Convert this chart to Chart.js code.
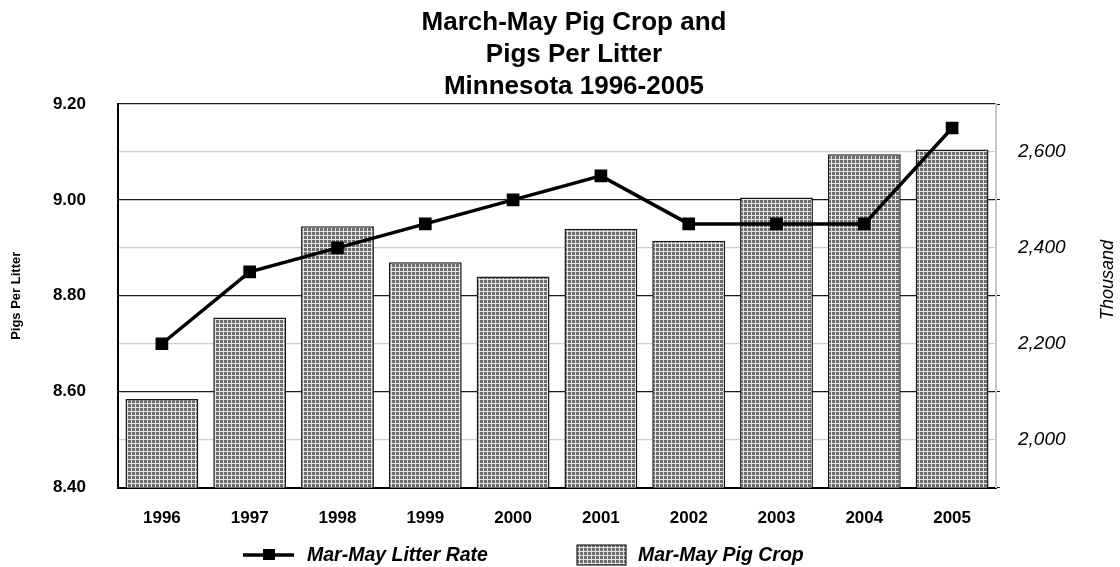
<!DOCTYPE html>
<html>
<head>
<meta charset="utf-8">
<script src="https://cdn.jsdelivr.net/npm/chart.js@4.4.0/dist/chart.umd.min.js"></script>
<style>
  html, body { margin:0; padding:0; background:#fff; }
  #wrap { width:1120px; height:567px; }
</style>
</head>
<body>
<div id="wrap"><canvas id="pigChart" width="1120" height="567"></canvas></div>
<script>
// data
const years = ['1996','1997','1998','1999','2000','2001','2002','2003','2004','2005'];
const litterRate = [8.70, 8.85, 8.90, 8.95, 9.00, 9.05, 8.95, 8.95, 8.95, 9.15];
const pigCrop = [2085, 2255, 2445, 2370, 2340, 2440, 2415, 2505, 2595, 2605];
const leftTicks = [8.40, 8.60, 8.80, 9.00, 9.20];
const rightTicks = [2000, 2200, 2400, 2600];
const titleLines = ['March-May Pig Crop and', 'Pigs Per Litter', 'Minnesota 1996-2005'];

const FONT = 'Arial, "Liberation Sans", sans-serif';

function makePattern() {
  const c = document.createElement('canvas');
  c.width = 4; c.height = 4;
  const g = c.getContext('2d');
  g.fillStyle = '#6e6e6e'; g.fillRect(0,0,4,4);
  g.fillStyle = '#e4e4e4'; g.fillRect(0,3,4,1); g.fillRect(3,0,1,4);
  return document.getElementById('pigChart').getContext('2d').createPattern(c, 'repeat');
}
const barFill = makePattern();

const isMajor = (v, list) => list.some(t => Math.abs(t - v) < 1e-6);

// title, right axis title and legend drawn by hand to sit like the original
const decorPlugin = {
  id: 'decor',
  afterDraw(chart) {
    const ctx = chart.ctx, a = chart.chartArea;
    ctx.save();
    ctx.fillStyle = '#000';
    ctx.textAlign = 'center'; ctx.textBaseline = 'alphabetic';
    ctx.font = 'bold 26px ' + FONT;
    titleLines.forEach((t, i) => ctx.fillText(t, 574, 30 + i * 32));

    // "Thousand" reads bottom-to-top in the original
    ctx.save();
    ctx.translate(1108, 280);
    ctx.rotate(-Math.PI / 2);
    ctx.textBaseline = 'middle';
    ctx.font = 'italic 18px ' + FONT;
    ctx.fillText('Thousand', 0, 0);
    ctx.restore();

    const y = 555;
    const x1 = a.left + 125, x2 = a.left + 459;
    ctx.strokeStyle = '#000'; ctx.lineWidth = 3.5;
    ctx.beginPath(); ctx.moveTo(x1, y); ctx.lineTo(x1 + 51, y); ctx.stroke();
    ctx.fillRect(x1 + 20, y - 6, 12, 11);
    ctx.fillStyle = barFill; ctx.fillRect(x2, y - 10, 49, 20);
    ctx.strokeStyle = '#222'; ctx.lineWidth = 1.2; ctx.strokeRect(x2, y - 10, 49, 20);
    ctx.fillStyle = '#000';
    ctx.textAlign = 'left'; ctx.textBaseline = 'middle';
    ctx.font = 'italic bold 19.5px ' + FONT;
    ctx.fillText('Mar-May Litter Rate', x1 + 64, y + 1);
    ctx.fillText('Mar-May Pig Crop', x2 + 61, y + 1);
    ctx.restore();
  }
};

new Chart(document.getElementById('pigChart'), {
  data: {
    labels: years,
    datasets: [
      { type:'line', label:'Mar-May Litter Rate', data:litterRate, yAxisID:'y',
        borderColor:'#000', borderWidth:3.5, pointStyle:'rect', pointRadius:6.5,
        pointBackgroundColor:'#000', pointBorderColor:'#000', tension:0, order:0 },
      { type:'bar', label:'Mar-May Pig Crop', data:pigCrop, yAxisID:'y2',
        backgroundColor:barFill, borderColor:'#1a1a1a', borderWidth:1.5,
        barPercentage:0.83, categoryPercentage:1, order:1 }
    ]
  },
  options: {
    responsive:false, animation:false,
    layout:{ padding:{ left:0, right:0, top:104, bottom:25 } },
    plugins:{
      legend:{ display:false },
      tooltip:{ enabled:false },
      title:{ display:false }
    },
    scales:{
      x:{
        grid:{ display:false },
        border:{ color:'#000', width:2 },
        ticks:{ color:'#000', padding:13, font:{ family:FONT, size:17, weight:'bold' } }
      },
      y:{
        position:'left', min:8.4, max:9.2,
        afterFit(s){ s.width = 118; },
        border:{ color:'#000', width:2 },
        grid:{ drawTicks:false, lineWidth:1.3,
          color: c => isMajor(c.tick.value, leftTicks) ? '#1a1a1a' : '#cdcdcd' },
        ticks:{ stepSize:0.1, padding:32, color:'#000',
          font:{ family:FONT, size:17, weight:'bold' },
          callback: v => isMajor(v, leftTicks) ? v.toFixed(2) : '' },
        title:{ display:true, text:'Pigs Per Litter', color:'#000', padding:{ top:9, bottom:0 },
          font:{ family:FONT, size:13, weight:'bold' } }
      },
      y2:{
        position:'right', min:1900, max:2700,
        afterFit(s){ s.width = 124; },
        border:{ color:'#c8c8c8', width:2 },
        grid:{ drawOnChartArea:false, tickLength:4,
          color: c => isMajor(c.tick.value, rightTicks) ? 'rgba(0,0,0,0)' : '#1a1a1a' },
        ticks:{ stepSize:100, padding:18, color:'#000',
          font:{ family:FONT, size:19, style:'italic' },
          callback: v => isMajor(v, rightTicks) ? v.toLocaleString('en-US') : '' },
        title:{ display:false }
      }
    }
  },
  plugins:[decorPlugin]
});
</script>
</body>
</html>
